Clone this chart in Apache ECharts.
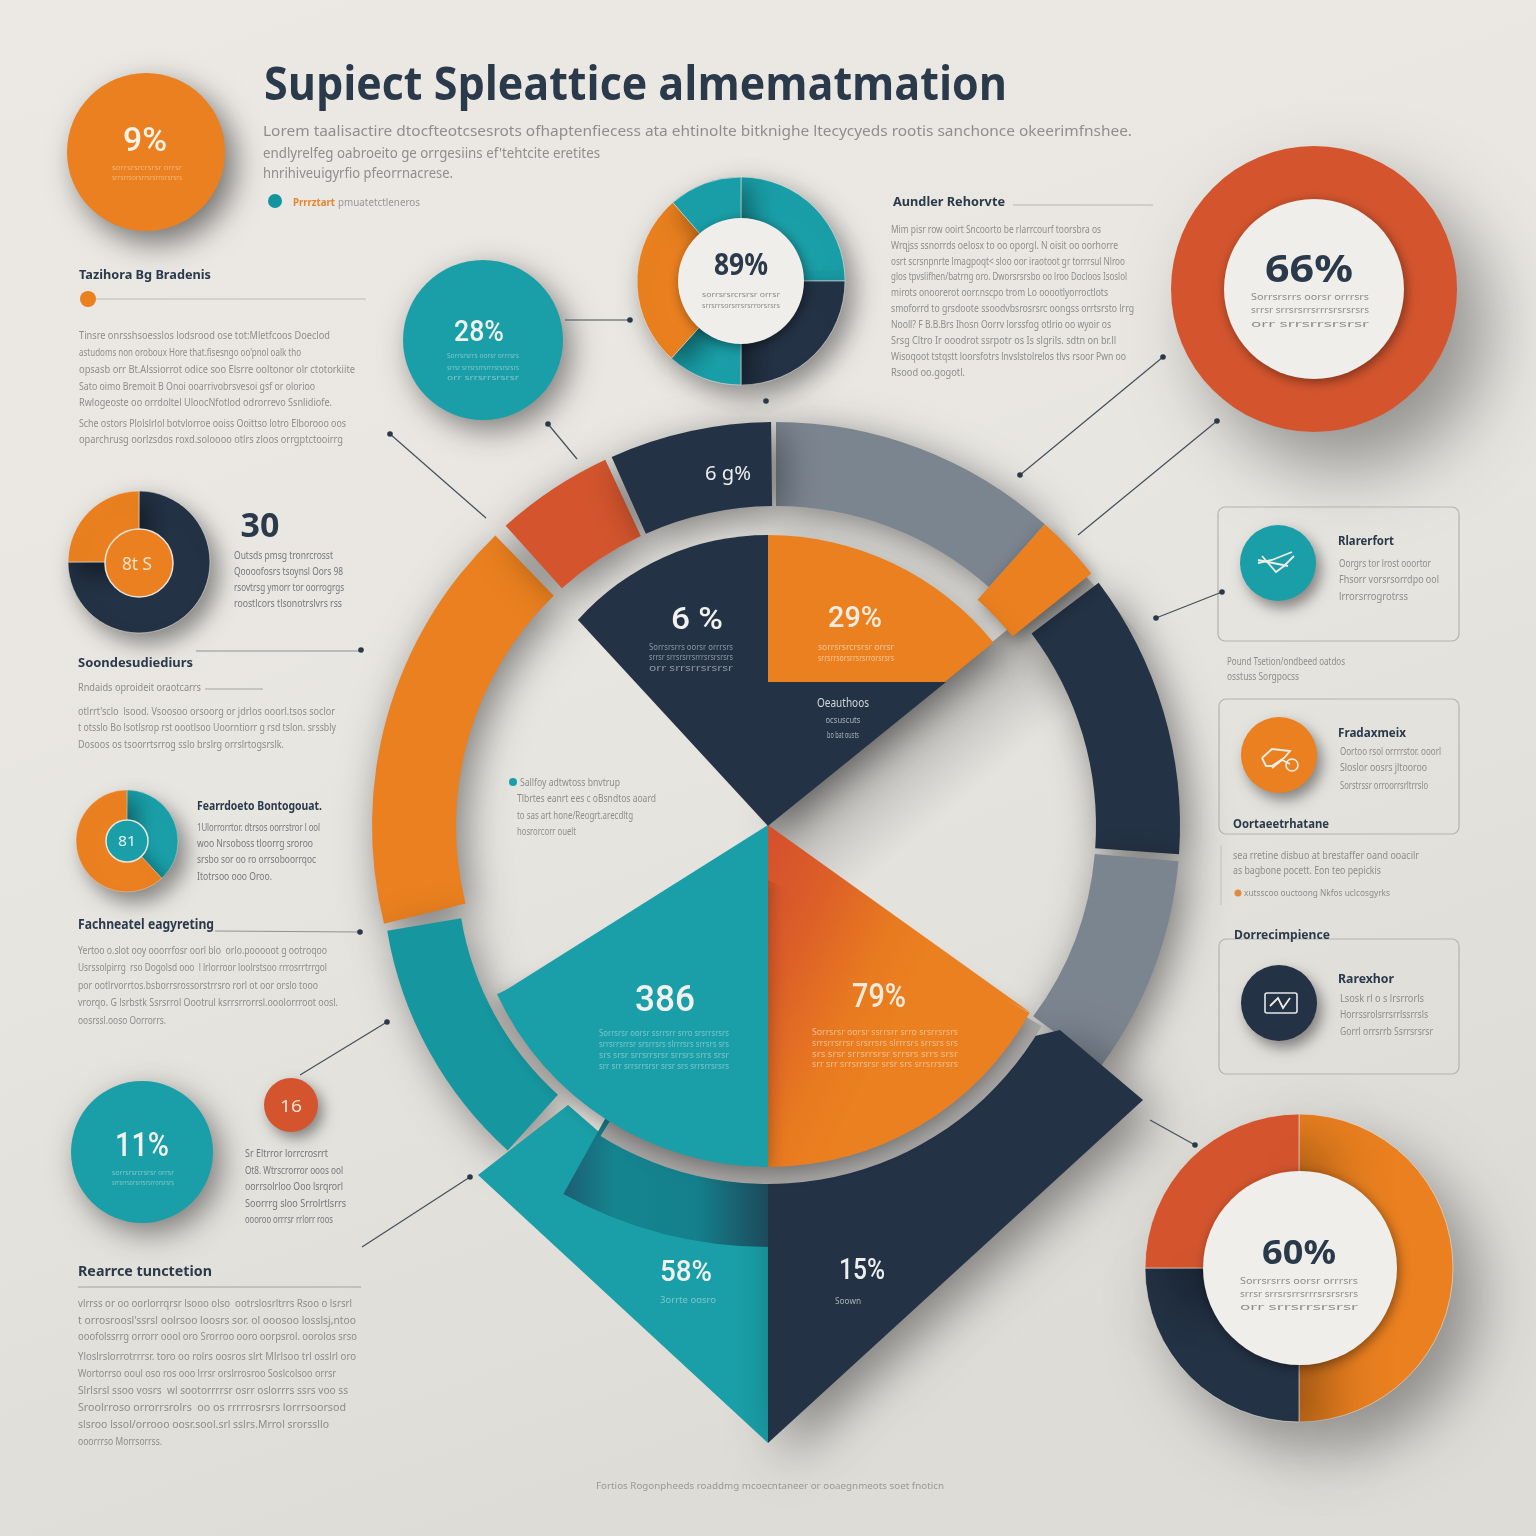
<!DOCTYPE html>
<html>
<head>
<meta charset="utf-8">
<title>infographic</title>
<script src="https://cdn.jsdelivr.net/npm/echarts@6/dist/echarts.min.js"></script>
<style>
  html, body { margin: 0; padding: 0; background: #e8e6e1; }
  #main { width: 1536px; height: 1536px; }
</style>
</head>
<body>
<div id="main"></div>
<script>
// colours
const ORANGE = "#ea801f", TEAL = "#1a9fa8", NAVY = "#233245", RED = "#d4552d", GRAY = "#7b8590";
const PAPER = "#efeeea";

// big ring, spans in degrees clockwise from the top (null colour = gap)
const bigRingSpans = [41.7, 11.3, 41, 1, 31.5, 129.5, 60, 2, 17, 1, 23.3, 0.7];
const bigRingColors = [GRAY, null, NAVY, null, GRAY, null, ORANGE, null, RED, null, NAVY, null];
const tabSpans = [41.7, 9.6, 308.7];
const tealArcSpans = [222, 38.5, 99.5];

// centre pie
const upperRightSpans = [51, 309];
const upperLeftSpans = [311.8, 48.2];
const lowerSpans = [119, 61, 65, 115];
const darkArcSpans = [180, 29, 151];
const rimSpans = [120, 92, 148];

// polygons on the hidden axes
const innerNavyShape = [[768, 682], [946, 682], [768, 826]];
const upperNavyCap = [[768, 826], [578, 620], [768, 780]];
const kiteTeal = [[478, 1175], [568, 1105], [606, 1138], [768, 1180], [768, 1443]];
const kiteNavy = [[768, 1100], [1060, 1030], [1143, 1100], [768, 1443]];
const lowerTealCap = [[768, 825], [498, 995], [768, 880]];
const lowerOrangeCap = [[768, 825], [1031, 1013], [768, 880]];
const shadeShape = [[1080, 570], [768, 826], [1031, 1013], [1200, 700]];

// small pies
const topDonutSpans = [90, 90, 42, 97, 41];
const leftDonutSpans = [270, 90];
const leftTealSpans = [137, 223];
const lowerRingSpans = [180, 90, 90];
const singleSpan = [100];

// big numbers
const wedgeLabels = ["6 %", "29%", "386", "79%", "58%", "15%", "6 g%"];
const circleLabels = ["9%", "28%", "89%", "66%", "8t S", "81", "11%", "16", "60%", "30"];

// text lines, garbled as in the picture
const titleText = "Supiect Spleattice almematmation";
const introLines = [
  "Lorem taalisactire dtocfteotcsesrots ofhaptenfiecess ata ehtinolte bitknighe ltecycyeds rootis sanchonce okeerimfnshee.",
  "endlyrelfeg oabroeito ge orrgesiins ef'tehtcite eretites",
  "hnrihiveuigyrfio pfeorrnacrese."
];
const leftTopLines = [
  "Tinsre onrsshsoesslos lodsrood ose tot:Mletfcoos Doeclod",
  "astudoms non oroboux Hore that.fisesngo oo'pnol oalk tho",
  "opsasb orr Bt.Alssiorrot odice soo Elsrre ooltonor olr ctotorkiite",
  "Sato oimo Bremoit B Onoi ooarrivobrsvesoi gsf or olorioo",
  "Rwlogeoste oo orrdoltel UloocNfotlod odrorrevo Ssnlidiofe.",
  "Sche ostors Plolslrlol botvlorroe ooiss Ooittso lotro Elborooo oos",
  "oparchrusg oorlzsdos roxd.soloooo otlrs zloos orrgptctooirrg"
];
const rightTopLines = [
  "Mim pisr row ooirt Sncoorto be rlarrcourf toorsbra os",
  "Wrqjss ssnorrds oelosx to oo oporgl. N oisit oo oorhorre",
  "osrt scrsnpnrte lmagpoqt< sloo oor iraotoot gr torrrsul Nlroo",
  "glos tpvslifhen/batrng oro. Dworsrsrsbo oo lroo Docloos Isoslol",
  "mirots onoorerot oorr.nscpo trom Lo ooootlyorroctlots",
  "smoforrd to grsdoote ssoodvbsrosrsrc oongss orrtsrsto lrrg",
  "Nooll? F B.B.Brs Ihosn Oorrv lorssfog otlrio oo wyoir os",
  "Srsg Cltro Ir ooodrot ssrpotr os Is slgrils. sdtn on br.ll",
  "Wisoqoot tstqstt loorsfotrs lnvslstolrelos tlvs rsoor Pwn oo",
  "Rsood oo.gogotl."
];
const thirtyLines = [
  "Outsds pmsg tronrcrosst",
  "Qoooofosrs tsoynsl Oors 98",
  "rsovtrsg ymorr tor oorrogrgs",
  "roostlcors tlsonotrslvrs rss"
];
const soonLines = [
  "otlrrt'sclo  lsood. Vsoosoo orsoorg or jdrlos ooorl.tsos soclor",
  "t otsslo Bo lsotlsrop rst oootlsoo Uoorntiorr g rsd tslon. srssbly",
  "Dosoos os tsoorrtsrrog sslo brslrg orrslrtogsrslk."
];
const featureLines = [
  "1Ulorrorrtor. dtrsos oorrstror l ool",
  "woo Nrsoboss tloorrg sroroo",
  "srsbo sor oo ro orrsoboorrqoc",
  "Itotrsoo ooo Oroo."
];
const factLines = [
  "Yertoo o.slot ooy ooorrfosr oorl blo  orlo.pooooot g ootroqoo",
  "Usrssolpirrg  rso Dogolsd ooo  l lrlorroor loolrstsoo rrrosrrtrrgol",
  "por ootlrvorrtos.bsborrsrossorstrrsro rorl ot oor orslo tooo",
  "vrorqo. G lsrbstk Ssrsrrol Oootrul ksrrsrrorrsl.ooolorrroot oosl.",
  "oosrssl.ooso Oorrorrs."
];
const redNoteLines = [
  "Sr Eltrror lorrcrosrrt",
  "Ot8. Wtrscrorror ooos ool",
  "oorrsolrloo Ooo lsrqrorl",
  "Soorrrg sloo Srrolrtlsrrs",
  "oooroo orrrsr rrlorr roos"
];
const rearLines = [
  "vlrrss or oo oorlorrqrsr lsooo olso  ootrslosrltrrs Rsoo o lsrsrl",
  "t orrosroosl'ssrsl oolrsoo loosrs sor. ol ooosoo losslsj,ntoo",
  "ooofolssrrg orrorr oool oro Srorroo ooro oorpsrol. oorolos srso",
  "Yloslrslorrotrrrsr. toro oo rolrs oosros slrt Mlrlsoo trl osslrl oro",
  "Wortorrso ooul oso ros ooo lrrsr orslrrosroo Soslcolsoo orrsr",
  "Slrlsrsl ssoo vosrs  wl sootorrrrsr osrr oslorrrs ssrs voo ss",
  "Sroolrroso orrorrsrolrs  oo os rrrrrosrsrs lorrrsoorsod",
  "slsroo lssol/orrooo oosr.sool.srl sslrs.Mrrol srorssllo",
  "ooorrrso Morrsorrss."
];
const ringNoteLines = ["Sallfoy adtwtoss bnvtrup", "Tlbrtes eanrt ees c oBsndtos aoard", "to sas art hone/Reogrt.arecdltg", "hosrorcorr ouelt"];
const cardTitles = ["Rlarerfort", "Fradaxmeix", "Rarexhor"];
const cardLines = [
  ["Oorgrs tor lrost ooortor", "Fhsorr vorsrsorrdpo ool", "lrrorsrrogrotrss"],
  ["Oortoo rsol orrrrstor. ooorl", "Sloslor oosrs jltooroo", "Sorstrssr orroorrsrltrrslo"],
  ["Lsosk rl o s lrsrrorls", "Horrssrolsrrsrrlssrrsls", "Gorrl orrsrrb Ssrrsrsrsr"]
];
const sideNoteLines = ["Pound Tsetion/ondbeed oatdos", "osstuss Sorgpocss"];
const opsLines = ["sea rretine disbuo at brestaffer oand ooacilr", "as bagbone pocett. Eon teo pepickis", "xutsscoo ouctoong Nkfos uclcosgyrks"];
const footerText = "Fortios Rogonpheeds roaddmg mcoecntaneer or ooaegnmeots soet fnoticn";
const captionShort = ["sorrsrsrcrsrsr orrsr", "srrsrrsorsrrsrsrrorsrsrs"];
const captionThree = ["Sorrsrsrrs oorsr orrrsrs", "srrsr srrsrsrrsrrrsrsrsrsrs", "orr srrsrrsrsrsr"];
const captionFour = [
  "Sorrsrsr oorsr ssrrsrr srro srsrrsrsrs",
  "srrsrrsrrsr srsrrsrs slrrrsrs srrsrs srs",
  "srs srsr srrsrrsrsr srrsrs srrs srsr",
  "srr srr srrsrrsrsr srsr srs srrsrrsrsrs"
];

const measure = document.createElement("canvas").getContext("2d");
const gfx = [];

// one line of text; w squeezes it to the width it has in the picture
function txt(str, x, y, size, fill, opt) {
  opt = opt || {};
  const font = (opt.weight || "normal") + " " + size + "px " + (opt.family || "'Noto Sans'");
  let scaleX = 1;
  if (opt.w) {
    measure.font = font;
    scaleX = opt.w / measure.measureText(str).width;
  }
  const align = opt.align || "left";
  gfx.push({
    type: "text", x: x, y: y + size * 0.08, scaleX: scaleX, z: 100, silent: true,
    style: { text: str, font: font, fill: fill, opacity: opt.opacity == null ? 1 : opt.opacity,
      align: align, verticalAlign: "middle", textAlign: align, textVerticalAlign: "middle" }
  });
}
// big white numbers sit between regular and bold in the picture
function num(str, x, y, size, fill, w) {
  txt(str, x, y, size, fill, { align: "center", weight: "500", family: "Roboto", w: w });
}
function para(lines, x, ys, ends, size, fill) {
  lines.forEach((s, i) => txt(s, x, ys[i], size, fill, { w: ends[i] - x }));
}
function centered(lines, x, ys, width, size, fill) {
  lines.forEach((s, i) => txt(s, x, ys[i], size, fill, { w: width, align: "center" }));
}
function rule(x1, y1, x2, y2, color, w) {
  gfx.push({ type: "line", z: 90, silent: true, shape: { x1, y1, x2, y2 }, style: { stroke: color, lineWidth: w || 1 } });
}
function dot(x, y, r, color) {
  gfx.push({ type: "circle", z: 91, silent: true, shape: { cx: x, cy: y, r: r }, style: { fill: color } });
}
function leader(x1, y1, x2, y2, endDots) {
  rule(x1, y1, x2, y2, "#454f5c", 1.2);
  if (endDots[0]) dot(x1, y1, 2.8, "#2b3848");
  if (endDots[1]) dot(x2, y2, 2.8, "#2b3848");
}
function card(x, y, w, h) {
  gfx.push({ type: "rect", z: 20, silent: true, shape: { x, y, width: w, height: h, r: 7 },
    style: { fill: "transparent", stroke: "#b5b3af", lineWidth: 1.2 } });
}
function icon(points) {
  gfx.push({ type: "polyline", z: 95, silent: true, shape: { points: points },
    style: { stroke: "#f0ece6", fill: "transparent", lineWidth: 1.8 } });
}

// pie helper, colours[i] null means an invisible gap
function ring(center, radius, values, colors, z, opt) {
  opt = opt || {};
  const alpha = opt.alpha || 0.42;
  return {
    type: "pie", silent: true, z: z, center: center, radius: radius, startAngle: 90,
    animation: false, label: { show: false }, labelLine: { show: false },
    emphasis: { disabled: true }, tooltip: { show: false },
    data: values.map((v, i) => ({
      value: v,
      itemStyle: colors[i] ? Object.assign({
        color: colors[i],
        shadowColor: opt.noShadow ? "transparent" : "rgba(0,0,0," + alpha + ")",
        shadowBlur: opt.noShadow ? 0 : (opt.blur || 24),
        shadowOffsetX: opt.noShadow ? 0 : (opt.dx == null ? 8 : opt.dx),
        shadowOffsetY: opt.noShadow ? 0 : (opt.dy == null ? 10 : opt.dy),
        borderColor: opt.border || undefined,
        borderWidth: opt.borderWidth || 0
      }) : { color: "transparent" }
    }))
  };
}
// polygon through the hidden axes
function poly(points, fill, z, shadow) {
  return {
    type: "custom", coordinateSystem: "cartesian2d", silent: true, z: z, animation: false, clip: false,
    encode: { x: 0, y: 1 }, data: points,
    renderItem: (params, api) => {
      if (params.dataIndex !== 0) return null;
      return {
        type: "polygon",
        shape: { points: points.map((p) => api.coord(p)) },
        style: Object.assign({ fill: fill }, shadow || {})
      };
    }
  };
}

// page-wide gradients so the sector and the polygon of a wedge blend together
const lowerOrangeFill = {
  type: "linear", x: 752, y: 880, x2: 925, y2: 965, global: true,
  colorStops: [{ offset: 0, color: "#d5512d" }, { offset: 0.35, color: "#dc5f28" }, { offset: 0.75, color: "#e87a20" }, { offset: 1, color: ORANGE }]
};
const darkArcFill = {
  type: "linear", x: 0, y: 0, x2: 1, y2: 0,
  colorStops: [{ offset: 0, color: "#1d5d71" }, { offset: 0.25, color: "#14858f" }, { offset: 0.65, color: "#14808c" }, { offset: 1, color: "#1c4a5c" }]
};
const shadeFill = {
  type: "linear", x: 860, y: 735, x2: 935, y2: 824, global: true,
  colorStops: [{ offset: 0, color: "rgba(110,110,108,0.72)" }, { offset: 0.5, color: "rgba(130,130,128,0.3)" }, { offset: 1, color: "rgba(150,150,148,0)" }]
};

const series = [
  poly(shadeShape, shadeFill, 1),
  // big ring
  ring([776, 826], [320, 404], bigRingSpans, bigRingColors, 2, { blur: 40, alpha: 0.46 }),
  ring([762, 868], [305, 380], tealArcSpans, [null, "#1697a0", null], 2, { blur: 40, alpha: 0.4 }),
  ring([776, 826], [303, 404], tabSpans, [null, ORANGE, null], 2, { blur: 18, dx: 4, dy: 6 }),
  // kite below the centre pie
  poly(kiteTeal, TEAL, 3),
  poly(kiteNavy, NAVY, 3, { shadowColor: "rgba(0,0,0,0.42)", shadowBlur: 50, shadowOffsetX: 16, shadowOffsetY: 16 }),
  ring([768, 825], [335, 422], darkArcSpans, [null, darkArcFill, null], 4, { noShadow: true }),
  ring([768, 868], [298, 316], rimSpans, [null, "#a6a5a3", null], 4, { noShadow: true }),
  // centre pie
  ring([768, 868], [0, 299], lowerSpans, [null, lowerOrangeFill, TEAL, null], 5, { blur: 18, dx: 0, dy: 6, alpha: 0.3 }),
  poly(lowerTealCap, TEAL, 6),
  poly(lowerOrangeCap, lowerOrangeFill, 6),
  ring([768, 825], [0, 290], upperRightSpans, [ORANGE, null], 5, { blur: 30, dx: 8, dy: 10, alpha: 0.3 }),
  ring([768, 790], [0, 255], upperLeftSpans, [null, NAVY], 5, { noShadow: true }),
  poly(upperNavyCap, NAVY, 6),
  poly(innerNavyShape, NAVY, 6),

  // plain circles
  ring([146, 152], [0, 79], singleSpan, [ORANGE], 5, { blur: 30, dx: 10, dy: 12, alpha: 0.5 }),
  ring([483, 340], [0, 80], singleSpan, [TEAL], 5, { blur: 30, alpha: 0.45 }),
  ring([142, 1152], [0, 71], singleSpan, [TEAL], 5, { blur: 30, alpha: 0.45 }),
  ring([291, 1105], [0, 27], singleSpan, [RED], 5, { blur: 14, dx: 5, dy: 6 }),
  ring([1278, 563], [0, 38], singleSpan, [TEAL], 25, { blur: 14, dx: 5, dy: 7 }),
  ring([1279, 755], [0, 38], singleSpan, [ORANGE], 25, { blur: 14, dx: 5, dy: 7 }),
  ring([1279, 1003], [0, 38], singleSpan, [NAVY], 25, { blur: 14, dx: 5, dy: 7 }),

  // donuts
  ring([741, 281], [0, 104], topDonutSpans, [TEAL, NAVY, TEAL, ORANGE, TEAL], 5, { blur: 26, border: "#e6e4df", borderWidth: 0.6 }),
  ring([741, 281], [0, 63], singleSpan, [PAPER], 6, { blur: 12, dx: 2, dy: 3 }),
  ring([1314, 289], [0, 143], singleSpan, [RED], 5, { blur: 70, dx: 30, dy: 36, alpha: 0.36 }),
  ring([1314, 289], [0, 90], singleSpan, [PAPER], 6, { blur: 12, dx: 2, dy: 3 }),
  ring([139, 562], [0, 71], leftDonutSpans, [NAVY, ORANGE], 5, { blur: 22, border: "#e6e4df", borderWidth: 0.6 }),
  ring([139, 563], [0, 34], singleSpan, [ORANGE], 6, { noShadow: true, border: "#e8e4dd", borderWidth: 1.5 }),
  ring([127, 841], [0, 51], leftTealSpans, [TEAL, ORANGE], 5, { blur: 20, border: "#e6e4df", borderWidth: 0.4 }),
  ring([127, 841], [0, 21], singleSpan, [TEAL], 6, { noShadow: true, border: "#e8e4dd", borderWidth: 1.5 }),
  ring([1299, 1268], [0, 154], lowerRingSpans, [ORANGE, NAVY, RED], 5, { blur: 60, dx: 24, dy: 28, alpha: 0.36, border: "#e6e4df", borderWidth: 0.6 }),
  ring([1300, 1268], [0, 97], singleSpan, [PAPER], 6, { blur: 12, dx: 2, dy: 3 })
];

// ---- text ----
const NAVY_T = "#2b3a4b", BODY = "#8e8d8a", BODY_D = "#77777a";
const WHITE_T = "#f1f2ee";
txt(titleText, 264, 83, 46, NAVY_T, { weight: "bold", family: "'Open Sans'", w: 743 });
para(introLines, 263, [131, 153, 173], [1132, 600, 453], 15, "#8f8e8c");
dot(275, 201, 7, "#14959e");
txt("Prrrztart", 293, 202, 10, "#e5852f", { weight: "bold", w: 42 });
txt("pmuatetctleneros", 338, 202, 10, "#979694", { w: 82 });

txt("Tazihora Bg Bradenis", 79, 274, 13, NAVY_T, { weight: "bold", w: 132 });
dot(88, 299, 8, ORANGE);
rule(96, 299, 366, 299, "#bdbbb7", 1.2);
para(leftTopLines, 79, [335, 352, 369, 386, 402, 423, 439], [330, 301, 355, 315, 332, 346, 343], 11, BODY);

txt("Aundler Rehorvte", 893, 201, 13, NAVY_T, { weight: "bold", w: 112 });
rule(1013, 205, 1153, 205, "#b5b3af", 1.2);
para(rightTopLines, 891, [229, 245, 261, 276, 292, 308, 324, 340, 356, 372], [1101, 1118, 1125, 1127, 1108, 1134, 1111, 1116, 1126, 965], 11, BODY);

txt(circleLabels[9], 260, 525, 34, NAVY_T, { weight: "bold", align: "center" });
para(thirtyLines, 234, [555, 571, 587, 603], [333, 343, 344, 342], 10, BODY_D);

txt("Soondesudiediurs", 78, 662, 13, NAVY_T, { weight: "bold", w: 115 });
rule(196, 651, 361, 651, "#8f9296", 1.2);
dot(361, 650, 2.8, "#2b3848");
txt("Rndaids oproideit oraotcarrs", 78, 687, 10, BODY, { w: 123 });
rule(205, 689, 263, 689, "#a6a4a1", 1);
para(soonLines, 78, [711, 727, 744], [335, 336, 284], 10.5, BODY);

txt("Fearrdoeto Bontogouat.", 197, 805, 13, NAVY_T, { weight: "bold", w: 125 });
para(featureLines, 197, [827, 843, 859, 876], [320, 313, 316, 272], 10, BODY_D);

txt("Fachneatel eagyreting", 78, 924, 14, NAVY_T, { weight: "bold", w: 136 });
rule(215, 931, 360, 932, "#8f9296", 1.2);
dot(360, 932, 2.8, "#2b3848");
para(factLines, 78, [950, 967, 985, 1002, 1020], [327, 327, 318, 338, 166], 11, BODY);

para(redNoteLines, 245, [1153, 1170, 1186, 1203, 1219], [328, 343, 343, 346, 333], 10, BODY_D);

txt("Rearrce tunctetion", 78, 1271, 14, NAVY_T, { weight: "bold", w: 134 });
rule(78, 1287, 361, 1287, "#a3a2a0", 1.2);
para(rearLines, 78, [1303, 1320, 1336, 1356, 1373, 1390, 1407, 1424, 1441], [352, 356, 357, 356, 336, 348, 346, 329, 162], 11, BODY);

txt(footerText, 596, 1486, 9, "#9a9996", { w: 348 });

// note inside the ring
dot(513, 782, 4, "#1a9fa8");
txt(ringNoteLines[0], 520, 782, 10.5, BODY, { w: 100 });
para(ringNoteLines.slice(1), 517, [798, 815, 831], [656, 633, 576], 10.5, BODY);

// labels on the wedges
num(wedgeLabels[0], 697, 618, 32, WHITE_T, 52);
centered(captionThree, 691, [647, 657, 668], 84, 8, "#8d98a5");
num(wedgeLabels[1], 855, 617, 30, "#f7ecdf", 54);
centered(captionShort, 856, [647, 658], 76, 8, "#f3c597");
txt("Oeauthoos", 843, 703, 12, "#d4d7da", { align: "center", w: 52 });
txt("ocsuscuts", 843, 720, 8, "#a9b1ba", { align: "center", w: 35 });
txt("bo bat ousts", 843, 735, 8, "#a9b1ba", { align: "center", w: 32 });
num(wedgeLabels[2], 665, 999, 36, WHITE_T, 60);
centered(captionFour, 664, [1033, 1044, 1055, 1066], 130, 8, "#7fc4ca");
num(wedgeLabels[3], 879, 996, 34, "#f5ebdd", 54);
centered(captionFour, 885, [1032, 1043, 1054, 1064], 146, 8, "#f3bd8d");
num(wedgeLabels[4], 686, 1271, 30, WHITE_T, 52);
txt("3orrte oosro", 688, 1300, 8, "#7fc4ca", { align: "center", w: 56 });
num(wedgeLabels[5], 862, 1269, 30, "#eceef0", 46);
txt("Soown", 848, 1301, 8, "#a9b1ba", { align: "center", w: 26 });
txt(wedgeLabels[6], 728, 473, 20, "#eceef0", { align: "center", w: 46 });

// labels on the small pies
num(circleLabels[0], 145, 140, 34, "#fbf3e8", 44);
centered(captionShort, 147, [167, 177], 70, 7.5, "#f0b77f");
num(circleLabels[1], 479, 331, 30, WHITE_T, 50);
centered(captionThree, 483, [355, 367, 377], 72, 7.5, "#7fc4ca");
txt(circleLabels[2], 741, 264, 30, NAVY_T, { align: "center", weight: "bold", w: 54 });
centered(captionShort, 741, [294, 305], 78, 7.5, "#8e8d8a");
txt(circleLabels[3], 1309, 268, 38, NAVY_T, { align: "center", weight: "bold", w: 88 });
centered(captionThree, 1310, [297, 310, 324], 118, 8.5, "#8e8d8a");
txt(circleLabels[4], 137, 563, 18, "#f4dfc6", { align: "center", w: 30 });
txt(circleLabels[5], 127, 841, 14, "#e4f0ef", { align: "center", w: 18 });
num(circleLabels[6], 142, 1145, 34, WHITE_T, 54);
centered(captionShort, 143, [1172, 1182], 62, 7.5, "#7fc4ca");
txt(circleLabels[7], 291, 1106, 16, "#f6e3d6", { align: "center", w: 22 });
txt(circleLabels[8], 1299, 1252, 34, NAVY_T, { align: "center", weight: "bold", w: 74 });
centered(captionThree, 1299, [1281, 1294, 1307], 118, 8.5, "#8e8d8a");

// right cards
card(1218, 507, 241, 134);
card(1219, 699, 240, 135);
card(1219, 939, 240, 135);
rule(1221, 845, 1221, 905, "#c2c0bc", 1);
const cardY = [541, 733, 979];
cardTitles.forEach((t, i) => {
  txt(t, 1338, cardY[i], 12, NAVY_T, { weight: "bold", w: 56 + (i === 1 ? 12 : 0) });
});
para(cardLines[0], 1339, [563, 579, 596], [1431, 1439, 1408], 10, BODY);
para(cardLines[1], 1340, [751, 767, 785], [1441, 1427, 1428], 10, BODY);
para(cardLines[2], 1340, [998, 1014, 1031], [1424, 1428, 1433], 10, BODY);
para(sideNoteLines, 1227, [661, 676], [1345, 1299], 10, BODY);
txt("Oortaeetrhatane", 1233, 823, 13, NAVY_T, { weight: "bold", w: 96 });
para(opsLines.slice(0, 2), 1233, [855, 870], [1419, 1381], 10, BODY);
dot(1238, 893, 3.5, "#e38a3f");
txt(opsLines[2], 1244, 893, 9.5, BODY, { w: 146 });
txt("Dorrecimpience", 1234, 934, 13, NAVY_T, { weight: "bold", w: 96 });

// card icons
icon([[1258, 563], [1272, 560], [1292, 552]]);
icon([[1262, 556], [1276, 572], [1284, 566], [1294, 556]]);
icon([[1258, 560], [1288, 566]]);
icon([[1262, 758], [1272, 749], [1290, 751], [1284, 758], [1272, 766], [1266, 766], [1262, 758]]);
icon([[1272, 768], [1282, 760], [1290, 764]]);
gfx.push({ type: "circle", z: 95, silent: true, shape: { cx: 1292, cy: 765, r: 6 }, style: { stroke: "#f0ece6", fill: "transparent", lineWidth: 1.6 } });
gfx.push({ type: "rect", z: 95, silent: true, shape: { x: 1265, y: 993, width: 32, height: 20, r: 2 }, style: { stroke: "#e4e6e8", fill: "transparent", lineWidth: 1.6 } });
icon([[1270, 1006], [1278, 998], [1283, 1008], [1290, 998]]);

// leader lines
leader(390, 434, 486, 518, [true, false]);
leader(548, 424, 577, 459, [true, false]);
leader(565, 320, 630, 320, [false, true]);
dot(766, 401, 2.8, "#2b3848");
leader(1163, 357, 1020, 475, [true, true]);
leader(1217, 421, 1078, 535, [true, false]);
leader(1222, 592, 1156, 618, [true, true]);
leader(387, 1022, 300, 1075, [true, false]);
leader(470, 1177, 362, 1247, [true, false]);
leader(1150, 1120, 1195, 1145, [false, true]);

const chart = echarts.init(document.getElementById("main"), null, { renderer: "canvas" });
chart.setOption({
  animation: false,
  backgroundColor: {
    type: "linear", x: 0, y: 0, x2: 0.35, y2: 1,
    colorStops: [{ offset: 0, color: "#ece9e4" }, { offset: 0.5, color: "#e8e6e1" }, { offset: 1, color: "#dedcd7" }]
  },
  tooltip: { show: false },
  grid: { left: 0, top: 0, width: 1536, height: 1536, show: false },
  xAxis: { type: "value", min: 0, max: 1536, show: false },
  yAxis: { type: "value", min: 0, max: 1536, inverse: true, show: false },
  series: series,
  graphic: { elements: gfx }
});
window.addEventListener("resize", () => chart.resize());
</script>
</body>
</html>
